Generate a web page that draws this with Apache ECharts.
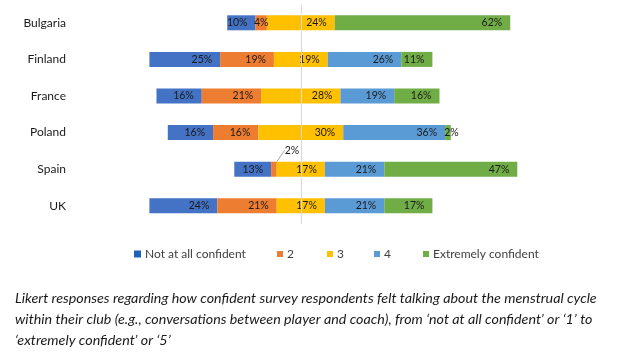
<!DOCTYPE html>
<html><head><meta charset="utf-8">
<script src="https://cdn.jsdelivr.net/npm/echarts@6/dist/echarts.min.js"></script>
<style>html,body{margin:0;padding:0;background:#fff}#c{width:636px;height:358px}</style>
</head><body><div id="c"></div>
<script>
const categories = ['Bulgaria','Finland','France','Poland','Spain','UK'];
const notAtAll   = [10,25,16,16,13,24];
const two        = [4,19,21,16,2,21];
const three      = [24,19,28,30,17,17];
const four       = [0,26,19,36,21,21];
const extremely  = [62,11,16,2,47,17];
const seriesNames = ['Not at all confident','2','3','4','Extremely confident'];
const colors = ['#4472C4','#ED7D31','#FFC000','#5B9BD5','#70AD47'];
const legendColors = ['#1F62B8','#ED7D31','#FFC000','#5B9BD5','#70AD47'];
const caption = 'Likert responses regarding how confident survey respondents felt talking about the menstrual cycle\nwithin their club (e.g., conversations between player and coach), from \u2018not at all confident\u2019 or \u20181\u2019 to\n\u2018extremely confident\u2019 or \u20185\u2019';

const CENTER = 60;
const offsets = categories.map((c,i)=> CENTER - (notAtAll[i] + two[i] + three[i]/2));
const values = [notAtAll, two, three, four, extremely];
const FONT = 'Lato';

const labelBase = {show:true, position:'insideRight', distance:8, color:'#1a1a1a', fontSize:10.5, fontFamily:FONT,
  formatter: p => p.value ? p.value + '%' : ''};

const series = [{
  name:'offset', type:'bar', stack:'s', data: offsets, barWidth:15, silent:true,
  itemStyle:{color:'rgba(0,0,0,0)'}, label:{show:false},
  markLine:{silent:true, symbol:'none', label:{show:false}, lineStyle:{color:'#d9d9d9', width:1, type:'solid'},
    data:[{xAxis:CENTER}]}
}];
values.forEach((arr, si) => {
  const data = arr.map(v => {
    if (si === 1 && v > 0 && v < 3) return {value:v, label:{position:'top', distance:4}};
    if (si === 4 && v > 0 && v < 3) return {value:v, label:{position:'insideLeft', distance:-1}};
    if (v > 0 && v < 6) return {value:v, label:{position:'inside'}};
    return v;
  });
  series.push({
    name: seriesNames[si], type:'bar', stack:'s', data, barWidth:15,
    itemStyle:{color:colors[si]}, label: labelBase,
    labelLine:{show:true, lineStyle:{color:'#a6a6a6', width:1}},
    labelLayout: si === 1 ? (p => (arr[p.dataIndex] < 3 ? {dx:18, dy:-2} : {})) : undefined
  });
});

const legendLeft = [134, 277, 327, 374, 423];
const legends = seriesNames.map((n,i)=>({
  data:[{name:n, itemStyle:{color:legendColors[i]}}], left:legendLeft[i], top:248, padding:0, icon:'rect',
  itemWidth:i===0?7:6, itemHeight:i===0?7:6, itemGap:0,
  textStyle:{fontSize:12, fontFamily:FONT, color:'#404040', padding:[0,0,0,-1]},
  selectedMode:false
}));

const chart = echarts.init(document.getElementById('c'), null, {renderer:'canvas'});
chart.setOption({
  animation:false,
  backgroundColor:'#fff',
  title:{text:caption, left:15, top:287.5, padding:0,
    textStyle:{fontSize:14.3, fontStyle:'italic', fontWeight:'normal', fontFamily:FONT, color:'#1a1a1a', lineHeight:21}},
  legend: legends,
  grid:{left:131, right:108.8, top:4.5, bottom:358-224.1, containLabel:false},
  xAxis:{type:'value', min:0, max:140, show:false},
  yAxis:{type:'category', data:categories, inverse:true,
    axisLine:{show:false}, axisTick:{show:false}, splitLine:{show:false},
    axisLabel:{margin:65, fontSize:12, fontFamily:FONT, color:'#1a1a1a'}},
  series
});
</script></body></html>
